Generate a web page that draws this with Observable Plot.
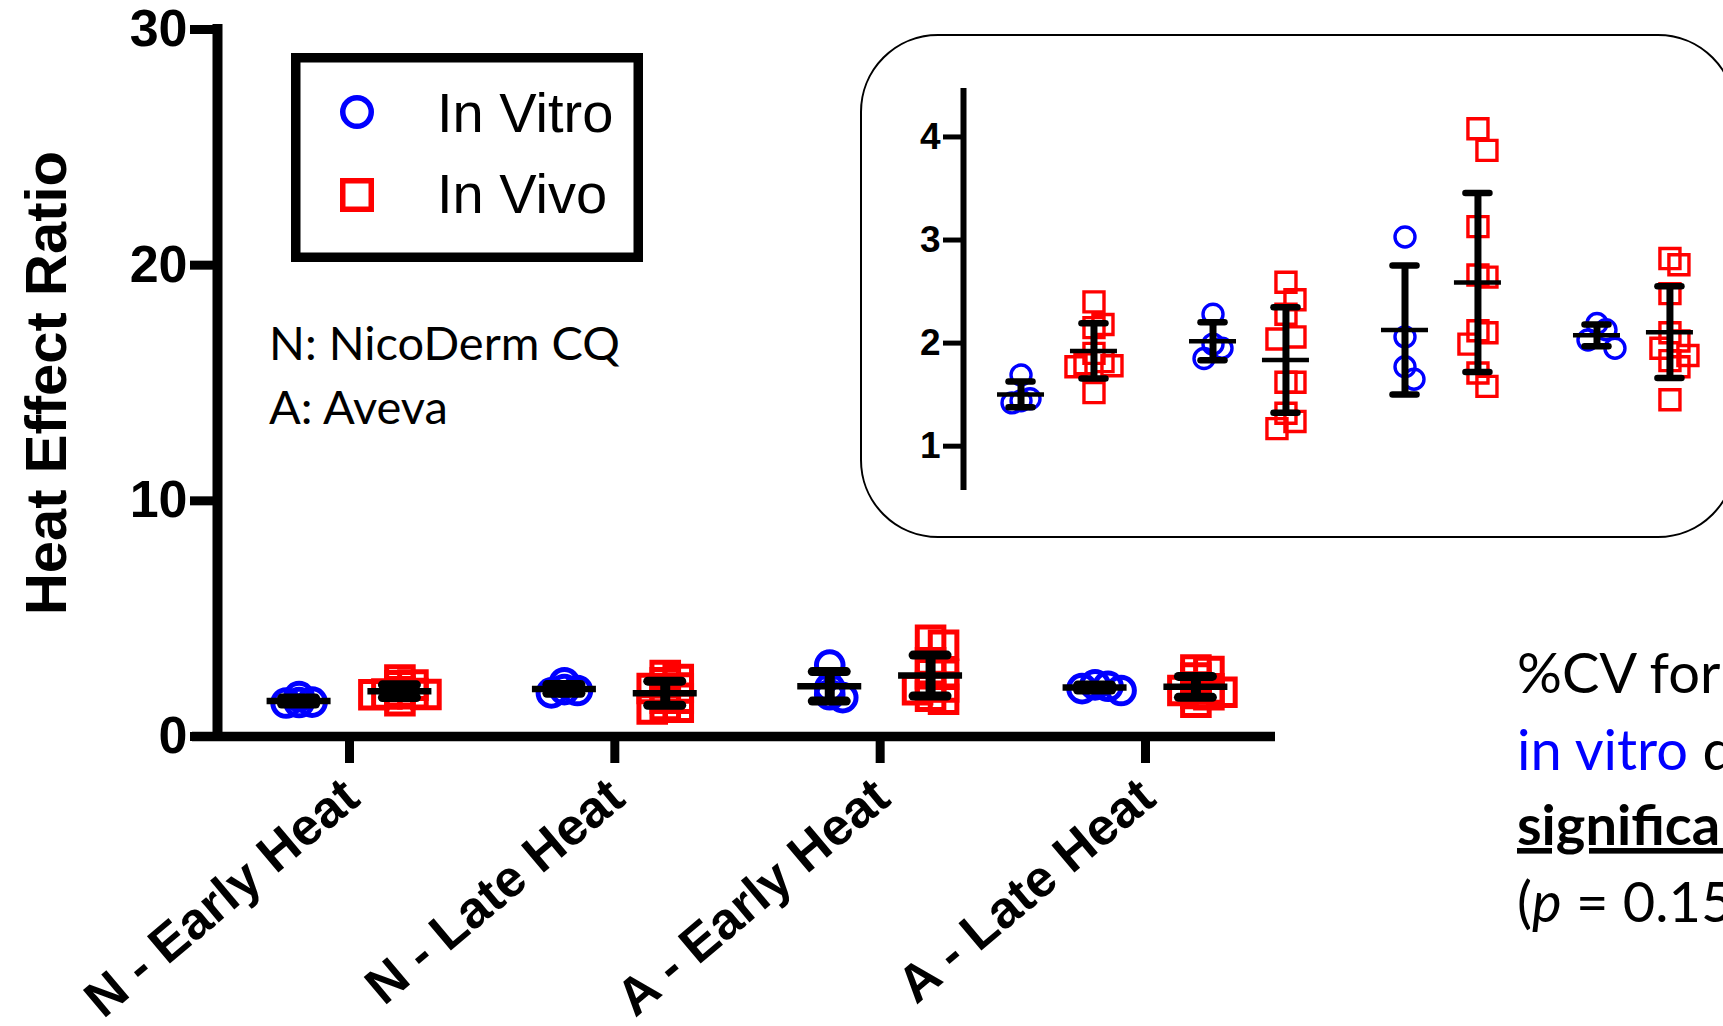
<!DOCTYPE html>
<html><head><meta charset="utf-8">
<script src="https://cdn.jsdelivr.net/npm/d3@7"></script>
<script src="https://cdn.jsdelivr.net/npm/@observablehq/plot@0.6"></script>
<style>
html,body{margin:0;padding:0;width:1723px;height:1026px;overflow:hidden;background:#fff;}
#main{position:absolute;left:0;top:0;}
#insetBox{position:absolute;left:860px;top:34px;width:876px;height:504px;box-sizing:border-box;border:2.5px solid #000;border-radius:78px;background:#fff;}
#inset{position:absolute;left:863px;top:34px;}
#overlay{position:absolute;left:0;top:0;}
</style></head><body>
<div id="main"></div>
<div id="insetBox"></div>
<div id="inset"></div>
<svg id="overlay" width="1723" height="1026" xmlns="http://www.w3.org/2000/svg">
  <g id="legend">
    <rect x="295.75" y="57.75" width="342.5" height="199.5" fill="none" stroke="#000" stroke-width="9.5"/>
    <circle cx="357" cy="112" r="14.25" fill="none" stroke="#0000FF" stroke-width="5.5"/>
    <rect x="342.75" y="180.75" width="28.5" height="28.5" fill="none" stroke="#FF0000" stroke-width="5.5"/>
    <text x="437" y="132" font-family="'Liberation Sans', Arial, sans-serif" font-size="56" fill="#000">In Vitro</text>
    <text x="437" y="213" font-family="'Liberation Sans', Arial, sans-serif" font-size="56" fill="#000">In Vivo</text>
  </g>
  <g font-family="Lato, 'Open Sans', sans-serif" fill="#000">
    <text x="269" y="360" font-size="47">N: NicoDerm CQ</text>
    <text x="269" y="424" font-size="47">A: Aveva</text>
    <text x="1517" y="693" font-size="56">%CV for in vivo and</text>
    <text x="1517" y="770" font-size="56"><tspan fill="#0000FF">in vitro</tspan> data not</text>
    <text x="1517" y="845" font-size="56" font-weight="bold" text-decoration="underline">significantly different</text>
    <text x="1517" y="922" font-size="56">(<tspan font-style="italic">p</tspan> = 0.15)</text>
  </g>
</svg>
<script>
// ---- data ----
const groups = ["N - Early Heat", "N - Late Heat", "A - Early Heat", "A - Late Heat"];
const seriesNames = ["In Vitro", "In Vivo"];
const inVitro = [
  [1.69, 1.46, 1.44, 1.42],
  [2.28, 1.99, 1.95, 1.85],
  [3.03, 2.06, 1.77, 1.65],
  [2.19, 2.13, 2.03, 1.95]
];
const inVivo = [
  [2.40, 2.18, 2.15, 1.90, 1.82, 1.80, 1.78, 1.77, 1.52],
  [2.59, 2.42, 2.28, 2.06, 2.04, 1.62, 1.62, 1.32, 1.24, 1.17],
  [4.08, 3.87, 3.13, 2.66, 2.64, 2.12, 2.10, 1.99, 1.71, 1.58],
  [2.82, 2.76, 2.48, 2.10, 2.02, 1.95, 1.88, 1.83, 1.77, 1.45]
];
const mainYTicks = [0, 10, 20, 30];
const insetYTicks = [1, 2, 3, 4];
const yAxisTitle = "Heat Effect Ratio";

// ---- derived tables ----
const SERIES_OFFSET = 0.19;
function dodge(values, T) {
  const order = values.map((v, i) => i).sort((a, b) => values[b] - values[a]);
  const placed = [];
  const ks = new Array(values.length).fill(0);
  for (const i of order) {
    for (const k of [0, 1, -1, 2, -2, 3, -3]) {
      if (!placed.some(p => p.k === k && Math.abs(p.v - values[i]) < T)) {
        placed.push({v: values[i], k}); ks[i] = k; break;
      }
    }
  }
  return ks;
}
const rows = [];
const stats = [];
[inVitro, inVivo].forEach((set, s) => {
  set.forEach((vals, g) => {
    const ks = dodge(vals, 0.25);
    vals.forEach((v, i) => rows.push({g, s, series: seriesNames[s], group: groups[g], v, k: ks[i]}));
    const m = d3.mean(vals), sd = d3.deviation(vals);
    stats.push({g, s, mean: m, lo: m - sd, hi: m + sd});
  });
});
const xc = d => d.g + (d.s === 0 ? -SERIES_OFFSET : SERIES_OFFSET);

function marksFor(cfg) {
  const jit = d => xc(d) + d.k * cfg.jitter;
  return [
    Plot.dot(rows.filter(d => d.s === 0), {x: jit, y: "v", symbol: "circle", r: cfg.rc, stroke: "#0000FF", strokeWidth: cfg.msw, fill: "none"}),
    Plot.dot(rows.filter(d => d.s === 1), {x: jit, y: "v", symbol: "square", r: cfg.rs, stroke: "#FF0000", strokeWidth: cfg.msw, fill: "none"}),
    Plot.ruleX(stats, {x: xc, y1: "lo", y2: "hi", stroke: "#000", strokeWidth: cfg.barW}),
    Plot.ruleY(stats, {x1: xc, x2: xc, y: "hi", insetLeft: -cfg.capHalf, insetRight: -cfg.capHalf, stroke: "#000", strokeWidth: cfg.capW, strokeLinecap: "round"}),
    Plot.ruleY(stats, {x1: xc, x2: xc, y: "lo", insetLeft: -cfg.capHalf, insetRight: -cfg.capHalf, stroke: "#000", strokeWidth: cfg.capW, strokeLinecap: "round"}),
    Plot.ruleY(stats, {x1: xc, x2: xc, y: "mean", insetLeft: -cfg.meanHalf, insetRight: -cfg.meanHalf, stroke: "#000", strokeWidth: cfg.meanW})
  ];
}

const mainX = [-0.4975, 3.49];
const main = Plot.plot({
  width: 1723, height: 1026,
  marginLeft: 217, marginRight: 448, marginTop: 29, marginBottom: 290,
  x: {domain: mainX, axis: null},
  y: {domain: [0, 30], axis: null},
  style: {fontFamily: "'Liberation Sans', Arial, sans-serif", background: "transparent", color: "#000", overflow: "visible", maxWidth: "none"},
  marks: [
    ...marksFor({jitter: 13 / 265.3, rc: 13.3, rs: 15, msw: 5, barW: 10, capHalf: 17, capW: 9, meanHalf: 32, meanW: 6.5}),
    Plot.ruleX([mainX[0]], {stroke: "#000", strokeWidth: 10, insetTop: -5, insetBottom: -5}),
    Plot.ruleY([0], {stroke: "#000", strokeWidth: 9.5, insetLeft: -25}),
    Plot.axisY(mainYTicks, {tickSize: 27, strokeWidth: 9, tickPadding: 3, fontSize: 52, fontWeight: "bold", label: null}),
    Plot.axisX([0, 1, 2, 3], {tickSize: 27, strokeWidth: 9, tickFormat: () => "", label: null}),
    Plot.text([0, 1, 2, 3], {x: d => d, frameAnchor: "bottom", text: d => groups[d], rotate: -40, textAnchor: "end", lineAnchor: "middle", dx: 2, dy: 53, fontSize: 52, fontWeight: "bold"}),
    Plot.text([yAxisTitle], {frameAnchor: "left", text: d => d, dx: -170, rotate: -90, textAnchor: "middle", lineAnchor: "middle", fontSize: 58, fontWeight: "bold"})
  ]
});
document.getElementById("main").appendChild(main);

const insetX = [-0.4896, 3.469];
const inset = Plot.plot({
  width: 860, height: 497,
  marginLeft: 100, marginRight: 0, marginTop: 54, marginBottom: 41,
  x: {domain: insetX, axis: null},
  y: {domain: [0.57, 4.47], axis: null},
  style: {fontFamily: "'Liberation Sans', Arial, sans-serif", background: "transparent", color: "#000", overflow: "visible", maxWidth: "none"},
  marks: [
    ...marksFor({jitter: 9 / 192, rc: 10, rs: 11.3, msw: 3.4, barW: 7, capHalf: 12, capW: 6.5, meanHalf: 23.5, meanW: 4.5}),
    Plot.ruleX([insetX[0]], {stroke: "#000", strokeWidth: 6}),
    Plot.axisY(insetYTicks, {tickSize: 20, strokeWidth: 5, tickPadding: 3, fontSize: 37, fontWeight: "bold", label: null, tickFormat: d => String(d)})
  ]
});
document.getElementById("inset").appendChild(inset);
</script>
</body></html>
